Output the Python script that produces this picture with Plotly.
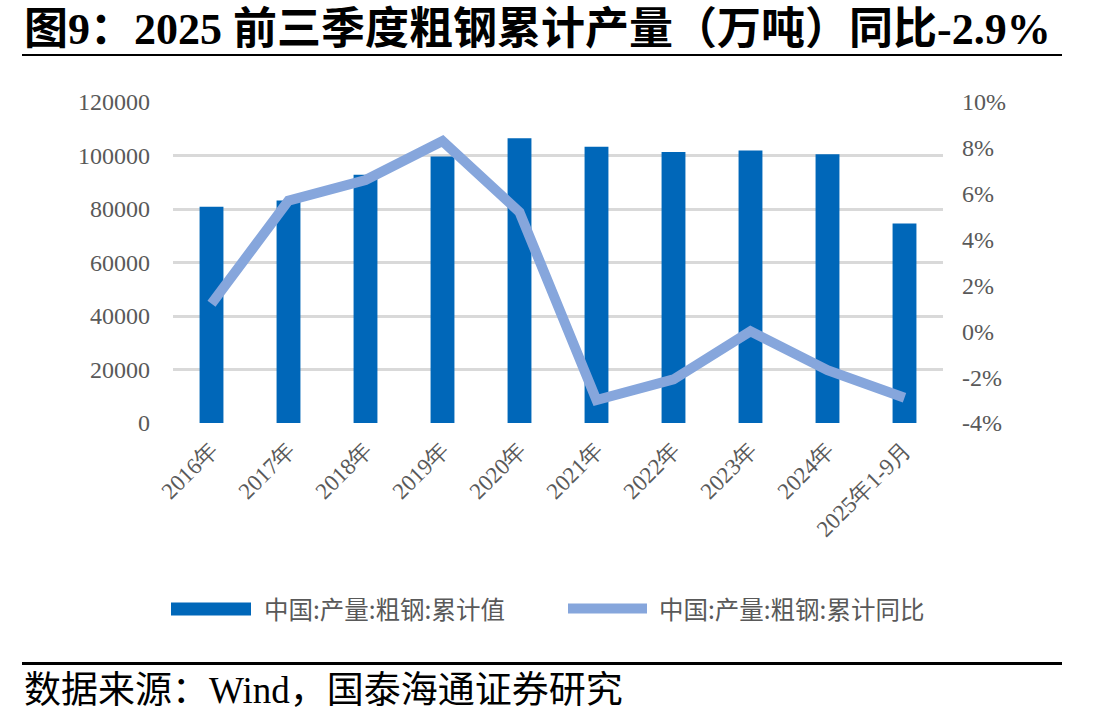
import plotly.graph_objects as go

# ---------------- data ----------------
categories = ["2016年", "2017年", "2018年", "2019年", "2020年",
              "2021年", "2022年", "2023年", "2024年", "2025年1-9月"]
output_cum = [80837, 83173, 92826, 99634, 106477,
              103279, 101300, 101908, 100509, 74625]
yoy_pct = [0.012, 0.057, 0.066, 0.083, 0.052,
           -0.030, -0.021, 0.000, -0.017, -0.029]
left_ticks = [0, 20000, 40000, 60000, 80000, 100000, 120000]
right_ticks = [-0.04, -0.02, 0.0, 0.02, 0.04, 0.06, 0.08, 0.10]

bar_name = "中国:产量:粗钢:累计值"
line_name = "中国:产量:粗钢:累计同比"
title_text = "图9：2025 前三季度粗钢累计产量（万吨）同比-2.9%"
source_text = "数据来源：Wind，国泰海通证券研究"

# ---------------- style ----------------
W, H = 1108, 723
L, R, T, B = 173, 943, 102, 422.7
BAR_COLOR = "#0067B9"
LINE_COLOR = "#86A6DC"
GRID = "#D9D9D9"
TICK_COLOR = "#595959"
SERIF = "Liberation Serif, Noto Sans CJK SC"
TICK_FONT = "Liberation Serif"


def px(x):
    return (x - L) / (R - L)


def py(y):
    return (B - y) / (B - T)


fig = go.Figure()
fig.add_trace(go.Bar(
    x=categories, y=output_cum, name=bar_name,
    marker=dict(color=BAR_COLOR, line=dict(width=0)),
    width=0.31, showlegend=False, yaxis="y",
))
fig.add_trace(go.Scatter(
    x=categories, y=yoy_pct, name=line_name, mode="lines",
    line=dict(color=LINE_COLOR, width=10),
    showlegend=False, yaxis="y2",
))

fig.update_layout(
    width=W, height=H,
    margin=dict(l=L, r=W - R, t=T, b=H - B),
    paper_bgcolor="white", plot_bgcolor="white",
    font=dict(family=TICK_FONT, color=TICK_COLOR, size=24),
    xaxis=dict(
        type="category", tickangle=-45, showgrid=False, showline=False,
        zeroline=False, ticks="", ticklabelstandoff=8,
        tickfont=dict(family=TICK_FONT, size=23, color=TICK_COLOR),
    ),
    yaxis=dict(
        range=[0, 120000], tickvals=left_ticks,
        ticktext=[str(v) for v in left_ticks],
        showgrid=True, gridcolor=GRID, gridwidth=2.5,
        zeroline=False, showline=False, ticks="",
        ticklabelstandoff=22,
        tickfont=dict(family=TICK_FONT, size=24, color=TICK_COLOR),
    ),
    yaxis2=dict(
        range=[-0.04, 0.10], tickvals=right_ticks,
        ticktext=[f"{round(v * 100)}%" for v in right_ticks],
        overlaying="y", side="right", showgrid=False, zeroline=False,
        showline=False, ticks="", ticklabelstandoff=18,
        tickfont=dict(family=TICK_FONT, size=24, color=TICK_COLOR),
    ),
    bargap=0.69,
)

# title
fig.add_annotation(
    text=f"<b>{title_text}</b>", xref="paper", yref="paper",
    x=px(22), y=py(30), xanchor="left", yanchor="middle", showarrow=False,
    font=dict(family=SERIF, size=44, color="black"),
)
# title underline
fig.add_shape(type="line", xref="paper", yref="paper",
              x0=px(22), x1=px(1062), y0=py(55), y1=py(55),
              line=dict(color="black", width=2))
# footer line
fig.add_shape(type="line", xref="paper", yref="paper",
              x0=px(22), x1=px(1062), y0=py(663), y1=py(663),
              line=dict(color="black", width=3))
# footer text
fig.add_annotation(
    text=source_text, xref="paper", yref="paper",
    x=px(22), y=py(690), xanchor="left", yanchor="middle", showarrow=False,
    font=dict(family=SERIF, size=37, color="black"),
)

# custom legend
fig.add_shape(type="rect", xref="paper", yref="paper",
              x0=px(171), x1=px(251), y0=py(602), y1=py(615),
              fillcolor=BAR_COLOR, line=dict(width=0))
fig.add_annotation(
    text=bar_name, xref="paper", yref="paper",
    x=px(262), y=py(608), xanchor="left", yanchor="middle", showarrow=False,
    font=dict(family="Noto Sans CJK SC", size=24.5, color=TICK_COLOR),
)
fig.add_shape(type="line", xref="paper", yref="paper",
              x0=px(568), x1=px(647), y0=py(608), y1=py(608),
              line=dict(color=LINE_COLOR, width=10))
fig.add_annotation(
    text=line_name, xref="paper", yref="paper",
    x=px(657), y=py(608), xanchor="left", yanchor="middle", showarrow=False,
    font=dict(family="Noto Sans CJK SC", size=24.5, color=TICK_COLOR),
)

fig.write_html("out.html")
